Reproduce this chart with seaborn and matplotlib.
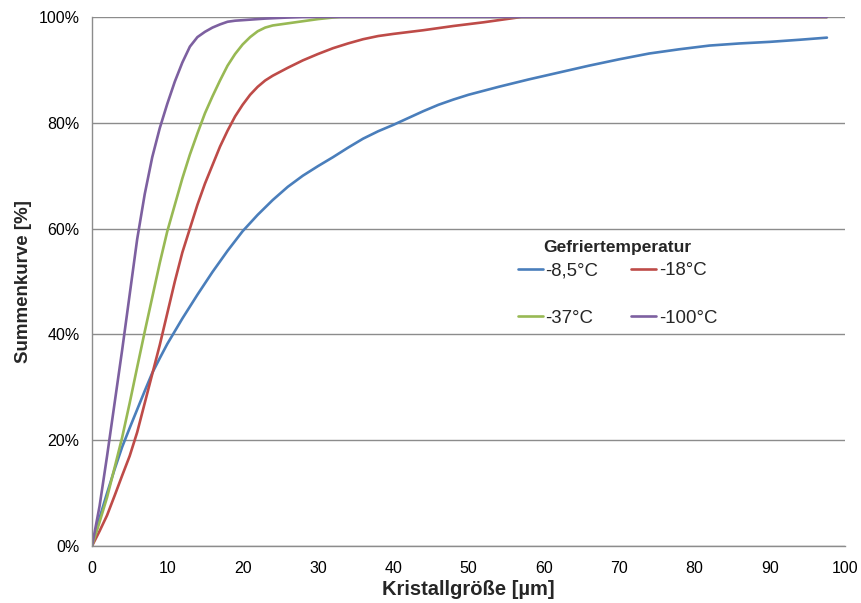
import matplotlib
matplotlib.use("Agg")
import matplotlib.pyplot as plt
import seaborn as sns
import pandas as pd

# Cumulative crystal size distributions for four freezing temperatures
labels = ["-8,5°C", "-18°C", "-37°C", "-100°C"]
colors = ["#4A7EBB", "#BE4B48", "#98B954", "#7D60A0"]

x_85 = [0, 1, 2, 3, 4, 5, 6, 7, 8, 9, 10, 12, 14, 16, 18, 20, 22, 24, 26, 28, 30,
        32, 34, 36, 38, 40, 42, 44, 46, 48, 50, 54, 58, 62, 66, 70, 74, 78, 82,
        86, 90, 94, 97.6]
y_85 = [0, 5.3, 10, 14.5, 18.7, 22.3, 25.8, 29.3, 32.7, 35.5, 38.2, 43, 47.5,
        51.8, 55.8, 59.5, 62.6, 65.4, 67.9, 70, 71.8, 73.5, 75.3, 77, 78.4, 79.6,
        80.9, 82.2, 83.4, 84.4, 85.3, 86.8, 88.2, 89.5, 90.8, 92, 93.1, 93.9,
        94.6, 95, 95.3, 95.7, 96.1]

x_18 = [0, 1, 2, 3, 4, 5, 6, 7, 8, 9, 10, 11, 12, 13, 14, 15, 16, 17, 18, 19, 20,
        21, 22, 23, 24, 26, 28, 30, 32, 34, 36, 38, 40, 44, 48, 52, 55, 57, 97.6]
y_18 = [0, 2.8, 5.8, 9.5, 13.3, 17, 21.5, 27, 32.5, 38, 44, 50, 55.5, 60, 64.5,
        68.5, 72, 75.5, 78.5, 81.2, 83.4, 85.3, 86.8, 88, 88.9, 90.4, 91.8, 93,
        94.1, 95, 95.8, 96.4, 96.8, 97.5, 98.3, 99, 99.6, 100, 100]

x_37 = [0, 1, 2, 3, 4, 5, 6, 7, 8, 9, 10, 11, 12, 13, 14, 15, 16, 17, 18, 19, 20,
        21, 22, 23, 24, 26, 28, 30, 32, 33, 97.6]
y_37 = [0, 4.5, 9.2, 14.8, 20.5, 27, 33.8, 40.5, 47, 53.5, 59.5, 64.5, 69.5, 74,
        78, 81.8, 85, 88, 90.8, 93, 94.8, 96.2, 97.3, 98, 98.4, 98.8, 99.2, 99.6,
        99.9, 100, 100]

x_100 = [0, 1, 2, 3, 4, 5, 6, 7, 8, 9, 10, 11, 12, 13, 14, 15, 16, 17, 18, 19,
         21, 23, 26, 28, 97.6]
y_100 = [0, 7.5, 17, 27, 37, 47.5, 58, 66.5, 73.5, 79, 83.6, 87.8, 91.4, 94.4,
         96.2, 97.2, 98, 98.6, 99.1, 99.3, 99.5, 99.7, 99.9, 100, 100]

x_ticks = [0, 10, 20, 30, 40, 50, 60, 70, 80, 90, 100]
y_ticks = [0, 20, 40, 60, 80, 100]
y_ticklabels = ["0%", "20%", "40%", "60%", "80%", "100%"]

frames = []
for lab, xs, ys in zip(labels, [x_85, x_18, x_37, x_100], [y_85, y_18, y_37, y_100]):
    frames.append(pd.DataFrame({"size": xs, "share": ys, "temp": lab}))
df = pd.concat(frames, ignore_index=True)

sns.set_theme(style="white")
plt.rcParams["font.family"] = ["Liberation Sans", "DejaVu Sans"]

fig = plt.figure(figsize=(8.62, 6.03), dpi=100)
ax = fig.add_axes([92 / 862, 1 - 546 / 603, 753 / 862, 529 / 603])

sns.lineplot(data=df, x="size", y="share", hue="temp", hue_order=labels,
             palette=colors, estimator=None, units="temp", sort=False,
             linewidth=1.9, ax=ax, legend=True)

ax.set_xlim(0, 100)
ax.set_ylim(0, 100)
ax.set_xticks(x_ticks)
ax.set_xticklabels([str(v) for v in x_ticks])
ax.set_yticks(y_ticks)
ax.set_yticklabels(y_ticklabels)

grid_col = "#8C8C8C"
ax.yaxis.grid(True, color=grid_col, linewidth=1.0)
ax.xaxis.grid(False)
ax.set_axisbelow(True)
for side in ["top", "right"]:
    ax.spines[side].set_visible(False)
for side in ["left", "bottom"]:
    ax.spines[side].set_color(grid_col)
    ax.spines[side].set_linewidth(1.0)
ax.tick_params(axis="both", which="major", direction="out", length=5, width=1.0,
               color=grid_col, labelsize=11.5, labelcolor="black", pad=4)
ax.tick_params(axis="x", pad=6)

ax.set_xlabel("Kristallgröße [µm]", fontsize=14.5, fontweight="bold", labelpad=3)
ax.set_ylabel("Summenkurve [%]", fontsize=13.5, fontweight="bold", labelpad=5)

# Row-wise legend layout: -8,5 / -18 on the first row, -37 / -100 on the second
handles, hlabels = ax.get_legend_handles_labels()
lookup = dict(zip(hlabels, handles))
order = [labels[0], labels[2], labels[1], labels[3]]
leg = ax.legend([lookup[k] for k in order], order, title="Gefriertemperatur",
                ncol=2, loc="center", bbox_to_anchor=(0.698, 0.496),
                frameon=False, fontsize=13.4, title_fontsize=12.5,
                labelspacing=1.65, handlelength=1.35, handletextpad=0.15,
                columnspacing=1.75)
leg.get_title().set_fontweight("bold")
leg._legend_box.sep = 5
for line in leg.get_lines():
    line.set_linewidth(1.9)

fig.savefig("out.png", dpi=100, facecolor="white")
